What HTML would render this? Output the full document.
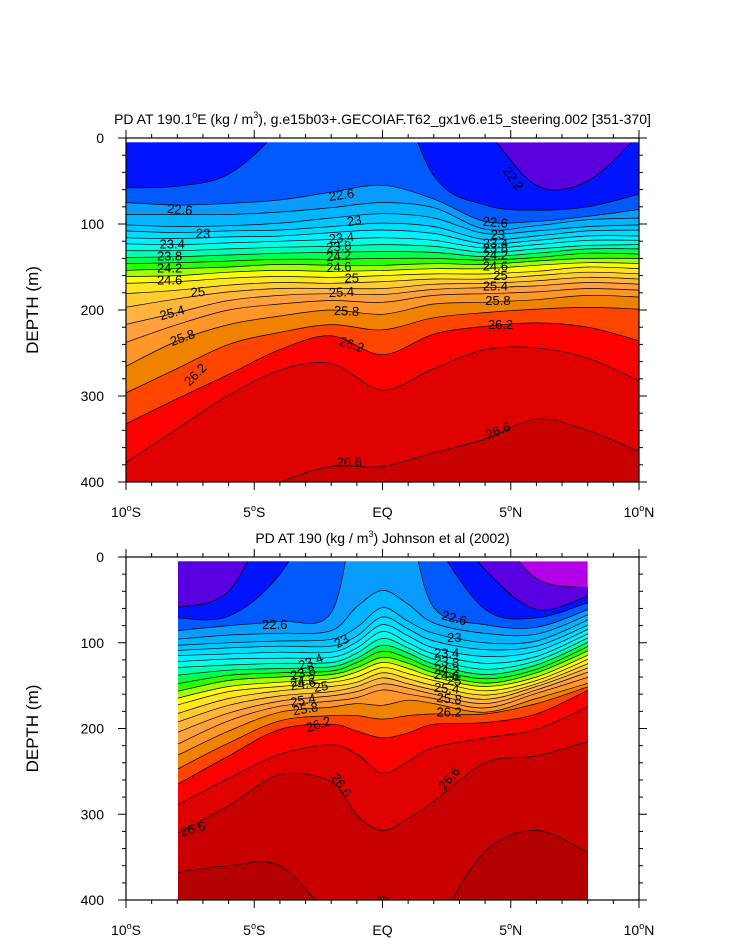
<!DOCTYPE html>
<html><head><meta charset="utf-8">
<style>
html,body{margin:0;padding:0;background:#fff;}
svg{display:block;font-family:"Liberation Sans",Arial,sans-serif;}
</style></head>
<body>
<svg id="fig" width="733" height="945" viewBox="0 0 733 945" xmlns="http://www.w3.org/2000/svg">
<defs>
<clipPath id="clip1"><rect x="126" y="142" width="513" height="340"/></clipPath>
<clipPath id="clip2"><rect x="178" y="561" width="410" height="339"/></clipPath>
</defs>
<g id="p1"></g>
<g id="p2"></g>
</svg>
<script>
// ---------- DATA ----------
const levels1 = [22.2,22.4,22.6,22.8,23.0,23.2,23.4,23.6,23.8,24.0,24.2,24.4,24.6,24.8,25.0,25.2,25.4,25.6,25.8,26.0,26.2,26.4,26.6];
const lats1 = [-10,-8,-6,-4,-2,0,2,4,6,8,10];
// depth (m) of each contour level at each latitude (model)
const depths1 = [
 [-60,-60,-60,-60,-60,-60,-60,-10,55,50,-5],
 [58,56,42,-10,-80,-90,44,78,84,80,65],
 [75,78,76,72,63,55,71,97,97,91,83],
 [89,89,89,86,81,75,81,106,102,95,93],
 [101,103,102,99,93,88,93,111,108,103,101],
 [108,110,108,107,103,99,103,118,114,108,107],
 [116,117,115,114,110,107,111,123,119,114,114],
 [123,124,122,120,118,116,119,128,124,119,119],
 [131,131,129,127,126,124,126,133,129,125,124],
 [139,138,136,134,133,132,133,138,134,129,129],
 [146,145,143,141,141,140,140,142,139,134,135],
 [154,152,150,147,148,148,146,147,143,140,140],
 [161,160,156,154,155,154,152,152,148,145,146],
 [169,167,163,161,162,160,158,158,155,150,152],
 [181,177,171,168,169,167,164,164,160,156,158],
 [197,187,179,175,175,175,170,169,166,162,164],
 [217,203,189,183,181,182,176,174,172,168,170],
 [238,217,200,193,189,191,183,181,179,175,177],
 [266,236,217,207,200,205,193,191,188,183,185],
 [297,268,240,226,217,223,209,203,199,197,199],
 [333,303,275,246,230,252,228,219,215,220,236],
 [378,338,299,270,262,293,268,246,244,256,283],
 [406,420,430,400,382,382,366,350,327,340,365]
];
const levels2 = [22.0,22.2,22.4,22.6,22.8,23.0,23.2,23.4,23.6,23.8,24.0,24.2,24.4,24.6,24.8,25.0,25.2,25.4,25.6,25.8,26.0,26.2,26.4,26.6,26.8];
const lats2 = [-8,-6,-4,-2,-1,0,1,2,4,6,8];
// depth (m) of each contour level at each latitude (Johnson et al 2002)
const depths2 = [
 [-50,-50,-50,-50,-50,-50,-50,-50,-40,25,36],
 [59,40,-60,-60,-60,-60,-60,-60,15,61,45],
 [71,69,20,-80,-80,-80,-80,-20,61,71,53],
 [86,80,75,65,-60,-80,-40,59,79,82,61],
 [96,91,89,86,58,39,55,77,89,90,67],
 [103,100,98,96,82,59,75,89,100,98,73],
 [109,106,104,104,92,70,84,98,108,104,79],
 [115,113,111,111,99,79,92,106,116,110,84],
 [122,119,118,117,106,87,100,113,124,116,89],
 [129,126,124,123,112,95,106,119,131,121,94],
 [138,132,130,128,118,103,112,125,137,126,99],
 [148,138,135,133,123,110,118,130,142,131,104],
 [157,144,140,137,129,117,124,135,147,135,109],
 [165,151,146,142,134,123,130,140,151,140,114],
 [173,157,151,146,140,129,136,144,156,144,119],
 [183,165,156,151,146,135,142,150,161,148,124],
 [193,173,162,157,151,141,148,155,166,151,129],
 [205,182,168,162,157,148,153,160,171,155,134],
 [219,191,174,168,164,155,160,165,176,159,140],
 [232,203,181,175,171,173,167,171,181,165,147],
 [248,217,191,185,185,189,185,183,183,171,151],
 [266,232,201,195,203,211,205,195,193,183,155],
 [290,258,230,219,230,252,238,222,211,201,174],
 [323,290,254,262,301,319,305,285,240,232,215],
 [368,360,360,420,430,396,430,430,343,319,345]
];
const tickLatLabels = ["10°S","5°S","EQ","5°N","10°N"];
const tickLatValues = [-10,-5,0,5,10];
const tickDepthValues = [0,100,200,300,400];
const labels1 = [
 ["22.2",5.1,47,55],["22.6",-7.9,83,5],["22.6",-1.6,66,-8],["22.6",4.4,98,5],
 ["23",-7.0,111,3],["23",-1.1,96,-10],["23",4.5,112,0],
 ["23.4",-8.2,123,0],["23.4",-1.6,116,-6],["23.4",4.4,122,0],
 ["23.8",-8.3,137,0],["23.8",-1.7,126,-5],["23.8",4.4,128,0],
 ["24.2",-8.3,151,0],["24.2",-1.7,137,-5],["24.2",4.4,136,0],
 ["24.6",-8.3,165,0],["24.6",-1.7,150,-3],["24.6",4.4,149,0],
 ["25",-7.2,179,-5],["25",-1.2,163,0],["25",4.6,160,0],
 ["25.4",-8.2,203,-15],["25.4",-1.6,179,-3],["25.4",4.4,172,0],
 ["25.8",-7.8,232,-20],["25.8",-1.4,201,3],["25.8",4.5,189,0],
 ["26.2",-7.3,275,-45],["26.2",-1.2,240,18],["26.2",4.6,217,0],
 ["26.6",-1.3,377,0],["26.6",4.5,340,-22]
];
const labels2 = [
 ["22.6",-4.2,79,0],["22.6",2.8,71,15],["23",-1.6,98,-30],["23",2.8,94,0],
 ["23.4",-2.8,122,-20],["23.4",2.5,112,0],["23.8",-3.1,135,-15],["23.8",2.5,122,5],
 ["24.2",-3.1,144,-10],["24.2",2.5,132,5],["24.6",-3.1,148,-10],["24.6",2.5,138,5],
 ["25",-2.4,151,-10],["25",2.8,144,5],["25.4",-3.1,167,-10],["25.4",2.5,153,5],
 ["25.8",-3.0,177,-10],["25.8",2.6,165,5],["26.2",-2.5,195,-18],["26.2",2.6,181,0],
 ["26.6",-1.6,266,55],["26.6",2.6,258,-50],["26.6",-7.4,317,-15]
];
const bandColors = {
 "21.8":"#b400e6","22.0":"#5a00e0","22.2":"#0014ff","22.4":"#005aff","22.6":"#0a9bff","22.8":"#00b4ff",
 "23.0":"#00c8ff","23.2":"#00dcff","23.4":"#00f0ff","23.6":"#00ffe6","23.8":"#00ffb4",
 "24.0":"#00ff50","24.2":"#28ff00","24.4":"#a0ff00","24.6":"#ffff00","24.8":"#ffe61e",
 "25.0":"#ffcd32","25.2":"#ffb43c","25.4":"#ffa03c","25.6":"#ff9628","25.8":"#f08200",
 "26.0":"#ff4600","26.2":"#ff0000","26.4":"#e10000","26.6":"#c80000","26.8":"#b40000"
};
// ---------- RENDER ----------
const NS="http://www.w3.org/2000/svg";
function mk(tag,attrs,parent){const e=document.createElementNS(NS,tag);for(const k in attrs)e.setAttribute(k,attrs[k]);parent.appendChild(e);return e;}
function curvePath(pts){
 let d="M"+pts[0][0].toFixed(1)+","+pts[0][1].toFixed(1);
 for(let i=0;i<pts.length-1;i++){
  const p0=pts[Math.max(0,i-1)],p1=pts[i],p2=pts[i+1],p3=pts[Math.min(pts.length-1,i+2)];
  const c1=[p1[0]+(p2[0]-p0[0])/6,p1[1]+(p2[1]-p0[1])/6];
  const c2=[p2[0]-(p3[0]-p1[0])/6,p2[1]-(p3[1]-p1[1])/6];
  d+="C"+c1[0].toFixed(1)+","+c1[1].toFixed(1)+" "+c2[0].toFixed(1)+","+c2[1].toFixed(1)+" "+p2[0].toFixed(1)+","+p2[1].toFixed(1);
 }
 return d;
}
function panel(g,cfg){
 const X=lat=>cfg.x0+(lat+10)/20*(cfg.x1-cfg.x0);
 const Y=dep=>cfg.y0+dep/400*(cfg.y1-cfg.y0);
 const dg=mk("g",{"clip-path":"url(#"+cfg.clip+")"},g);
 
 
 const bg=mk("rect",{x:X(cfg.lats[0]),y:Y(5),width:X(cfg.lats[cfg.lats.length-1])-X(cfg.lats[0]),height:cfg.y1-Y(5),fill:cfg.bg},dg);
 
 
 const lines=[];
 cfg.levels.forEach((lv,i)=>{
  const pts=cfg.lats.map((la,j)=>[X(la),Y(cfg.depths[i][j])]);
  const xl=pts[0][0]-1,xr=pts[pts.length-1][0]+1;
  pts[0][0]=xl;pts[pts.length-1][0]=xr;
  const c=curvePath(pts);
  const f=mk("path",{d:c+"L"+xr+","+(cfg.y1+60)+"L"+xl+","+(cfg.y1+60)+"Z",fill:bandColors[lv.toFixed(1)]},dg);
  
  
  lines.push(c);
 });
 lines.forEach((c,i)=>{
  const l=mk("path",{d:c,fill:"none",stroke:"#000","stroke-width":"0.7"},dg);
  
  
 });
 mk("rect",{x:cfg.x0,y:cfg.y0,width:cfg.x1-cfg.x0,height:Y(5)-cfg.y0,fill:"#fff"},dg);
 cfg.labels.forEach(lb=>{
  const t=mk("text",{x:X(lb[1]),y:Y(lb[2]),"font-size":"13","text-anchor":"middle","dominant-baseline":"central",transform:"rotate("+lb[3]+" "+X(lb[1])+" "+Y(lb[2])+")"},dg);
  t.textContent=lb[0];
  
  
 });
 const fr=mk("rect",{x:cfg.x0,y:cfg.y0,width:cfg.x1-cfg.x0,height:cfg.y1-cfg.y0,fill:"none",stroke:"#000","stroke-width":"1.2"},g);
 
 
 const tg=mk("g",{stroke:"#000","stroke-width":"1"},g);
 
 
 for(let la=-10;la<=10;la++){
  const L=(la%5===0)?8:4,x=X(la);
  mk("line",{x1:x,x2:x,y1:cfg.y1,y2:cfg.y1+L},tg);
  mk("line",{x1:x,x2:x,y1:cfg.y0,y2:cfg.y0-L},tg);
 }
 for(let d=0;d<=400;d+=20){
  const L=(d%100===0)?8:4,y=Y(d);
  mk("line",{x1:cfg.x0,x2:cfg.x0-L,y1:y,y2:y},tg);
  mk("line",{x1:cfg.x1,x2:cfg.x1+L,y1:y,y2:y},tg);
 }
 tickLatValues.forEach((la,i)=>{
  const t=mk("text",{x:X(la),y:cfg.y1+35,"font-size":"14","text-anchor":"middle"},g);
  const s=tickLatLabels[i];
  if(s.indexOf("°")>=0){
   const p=s.split("°");
   t.appendChild(document.createTextNode(p[0]));
   const sp=mk("tspan",{"font-size":"9",dy:"-6"},t);sp.textContent="o";
   const sp2=mk("tspan",{dy:"6"},t);sp2.textContent=p[1];
  } else t.textContent=s;
  
  
 });
 tickDepthValues.forEach(d=>{
  const t=mk("text",{x:104,y:Y(d)+5,"font-size":"14","text-anchor":"end"},g);
  t.textContent=d;
  
  
 });
 const cy=(cfg.y0+cfg.y1)/2;
 const yt=mk("text",{x:38,y:cy,"font-size":"17","text-anchor":"middle",transform:"rotate(-90 38 "+cy+")"},g);
 yt.textContent="DEPTH (m)";
 
 
 const tt=mk("text",{x:(cfg.x0+cfg.x1)/2,y:cfg.y0-14,"font-size":"14","text-anchor":"middle"},g);
 cfg.title.forEach(part=>{
  if(part==="^o"||part==="^3"){
   const s=mk("tspan",{"font-size":"9",dy:"-6"},tt);s.textContent=part.slice(1);
  } else {
   const s=mk("tspan",{dy:(tt.childNodes.length?"6":"0")},tt);s.textContent=part;
  }
 });
 
 
}
panel(document.getElementById("p1"),{x0:126,x1:639,y0:138,y1:482,clip:"clip1",lats:lats1,levels:levels1,depths:depths1,bg:bandColors["22.0"],labels:labels1,
 title:["PD AT 190.1","^o","E (kg / m","^3","), g.e15b03+.GECOIAF.T62_gx1v6.e15_steering.002 [351-370]"]});
panel(document.getElementById("p2"),{x0:126,x1:639,y0:557,y1:900,clip:"clip2",lats:lats2,levels:levels2,depths:depths2,bg:bandColors["21.8"],labels:labels2,
 title:["PD AT 190 (kg / m","^3",") Johnson et al (2002)"]});
</script>
</body></html>
